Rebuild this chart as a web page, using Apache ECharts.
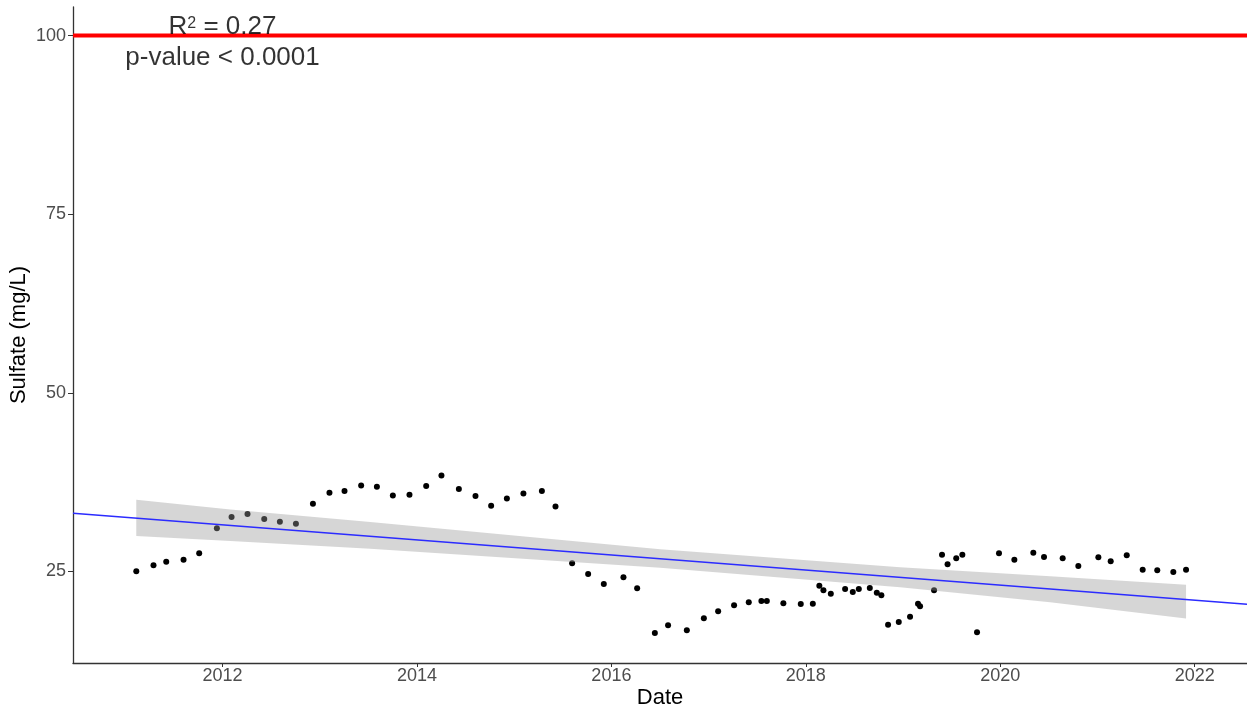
<!DOCTYPE html>
<html>
<head>
<meta charset="utf-8">
<script src="https://cdn.jsdelivr.net/npm/echarts@6.0.0/dist/echarts.min.js"></script>
<style>
  html, body { margin: 0; padding: 0; background: #fff; }
  #chart { width: 1247px; height: 712px; }
</style>
</head>
<body>
<div id="chart"></div>
<script>
// ---- data (dates as decimal years) ----
const sampleYear = [2011.113, 2011.290, 2011.421, 2011.599, 2011.760, 2011.942, 2012.093, 2012.257, 2012.429, 2012.590,
  2012.755, 2012.930, 2013.100, 2013.255, 2013.426, 2013.588, 2013.752, 2013.923, 2014.095, 2014.252,
  2014.431, 2014.602, 2014.763, 2014.925, 2015.095, 2015.285, 2015.425, 2015.596, 2015.761, 2015.922,
  2016.124, 2016.265, 2016.447, 2016.583, 2016.776, 2016.951, 2017.098, 2017.262, 2017.413, 2017.543,
  2017.599, 2017.769, 2017.948, 2018.072, 2018.139, 2018.181, 2018.257, 2018.404, 2018.483, 2018.545,
  2018.658, 2018.730, 2018.777, 2018.846, 2018.956, 2019.072, 2019.154, 2019.175, 2019.319, 2019.401,
  2019.458, 2019.547, 2019.610, 2019.761, 2019.987, 2020.145, 2020.340, 2020.450, 2020.642, 2020.803,
  2021.009, 2021.136, 2021.301, 2021.465, 2021.615, 2021.780, 2021.911];
const sulfate = [25.0, 25.84, 26.36, 26.64, 27.52, 31.02, 32.60, 33.02, 32.32, 31.95,
  31.67, 34.47, 36.01, 36.24, 37.03, 36.85, 35.63, 35.73, 36.94, 38.43,
  36.52, 35.54, 34.19, 35.21, 35.91, 36.24, 34.09, 26.12, 24.62, 23.22,
  24.16, 22.62, 16.37, 17.44, 16.74, 18.42, 19.40, 20.24, 20.66, 20.84,
  20.84, 20.52, 20.42, 20.48, 23.0, 22.34, 21.88, 22.52, 22.10, 22.52,
  22.66, 22.02, 21.64, 17.54, 17.91, 18.66, 20.48, 20.10, 22.34, 27.34,
  26.0, 26.82, 27.34, 16.46, 27.52, 26.64, 27.62, 27.0, 26.82, 25.74,
  26.96, 26.40, 27.24, 25.24, 25.14, 24.90, 25.24];

// confidence band of the linear fit
const bandYear = [2011.113, 2012.081, 2013.520, 2016.502, 2018.970, 2020.513, 2021.911];
const bandLow  = [29.94, 29.24, 28.18, 25.52, 22.77, 20.69, 18.40];
const bandHigh = [35.03, 33.66, 31.90, 28.09, 25.57, 24.33, 23.13];

// fitted trend line end values and guideline
const trendY = [33.12, 20.38];
const limitValue = 100;

// axes
const xTicks = [2012, 2014, 2016, 2018, 2020, 2022];
const yTicks = [25, 50, 75, 100];
const X_MIN = 2010.462, X_MAX = 2022.538;
const Y_MIN = 12.17, Y_MAX = 104.0;

const annotationPos = [2012, 100];
const annotationR2 = '0.27';
const annotationP = '< 0.0001';

const FONT = "'Liberation Sans', Arial, Helvetica, sans-serif";

const chart = echarts.init(document.getElementById('chart'), null, { renderer: 'canvas' });

const option = {
  animation: false,
  backgroundColor: '#ffffff',
  textStyle: { fontFamily: FONT },
  grid: { left: 73, right: 0, top: 7, bottom: 49, containLabel: false, outerBoundsMode: 'none' },
  xAxis: {
    type: 'value', min: X_MIN, max: X_MAX,
    name: 'Date', nameLocation: 'middle', nameGap: 24, nameMoveOverlap: false,
    nameTextStyle: { fontSize: 22, color: '#000', fontFamily: FONT },
    axisLine: { show: true, onZero: false, lineStyle: { color: '#333', width: 1.3 } },
    axisTick: { show: true, customValues: xTicks, length: 4, lineStyle: { color: '#333', width: 1 } },
    axisLabel: { customValues: xTicks, formatter: v => String(Math.round(v)), fontSize: 18, color: '#4d4d4d', margin: 4, fontFamily: FONT },
    splitLine: { show: false }
  },
  yAxis: {
    type: 'value', min: Y_MIN, max: Y_MAX,
    name: 'Sulfate (mg/L)', nameLocation: 'middle', nameGap: 43, nameMoveOverlap: false,
    nameTextStyle: { fontSize: 22, color: '#000', fontFamily: FONT },
    axisLine: { show: true, onZero: false, lineStyle: { color: '#333', width: 1.3 } },
    axisTick: { show: true, customValues: yTicks, length: 5, lineStyle: { color: '#333', width: 1 } },
    axisLabel: { customValues: yTicks, fontSize: 18, color: '#4d4d4d', margin: 7, fontFamily: FONT },
    splitLine: { show: false }
  },
  series: [
    {
      name: 'samples', type: 'scatter', z: 2, silent: true,
      symbol: 'circle', symbolSize: 6,
      itemStyle: { color: '#000000', opacity: 1 },
      data: sampleYear.map((x, i) => [x, sulfate[i]])
    },
    {
      name: 'band', type: 'custom', z: 3, silent: true,
      data: bandYear.map((x, i) => [x, bandLow[i], bandHigh[i]]),
      encode: { x: 0, y: [1, 2] },
      renderItem: function (params, api) {
        if (params.dataIndex !== 0) return null;
        const pts = [];
        for (let i = 0; i < bandYear.length; i++) pts.push(api.coord([bandYear[i], bandHigh[i]]));
        for (let i = bandYear.length - 1; i >= 0; i--) pts.push(api.coord([bandYear[i], bandLow[i]]));
        return { type: 'polygon', shape: { points: pts }, style: { fill: 'rgba(153,153,153,0.4)' } };
      }
    },
    {
      name: 'trend', type: 'line', z: 4, silent: true, symbol: 'none',
      lineStyle: { color: '#2b2bff', width: 1.5 },
      data: [[X_MIN, trendY[0]], [X_MAX, trendY[1]]]
    },
    {
      name: 'limit', type: 'line', z: 5, silent: true, symbol: 'none',
      lineStyle: { color: '#ff0000', width: 4 },
      data: [[X_MIN, limitValue], [X_MAX, limitValue]]
    },
    {
      name: 'annotation', type: 'scatter', z: 6, silent: true, symbolSize: 0,
      data: [annotationPos],
      label: {
        show: true, position: 'inside', offset: [0, 7], align: 'center',
        formatter: '{a|R}{sup|2}{a| = ' + annotationR2 + '}\n{a|p-value ' + annotationP + '}',
        rich: {
          a: { fontSize: 26, lineHeight: 31, color: '#000', fontFamily: FONT },
          sup: { fontSize: 16, lineHeight: 16, color: '#000', verticalAlign: 'top', padding: [4, 0, 0, 0], fontFamily: FONT }
        }
      }
    }
  ]
};
chart.setOption(option);
</script>
</body>
</html>
